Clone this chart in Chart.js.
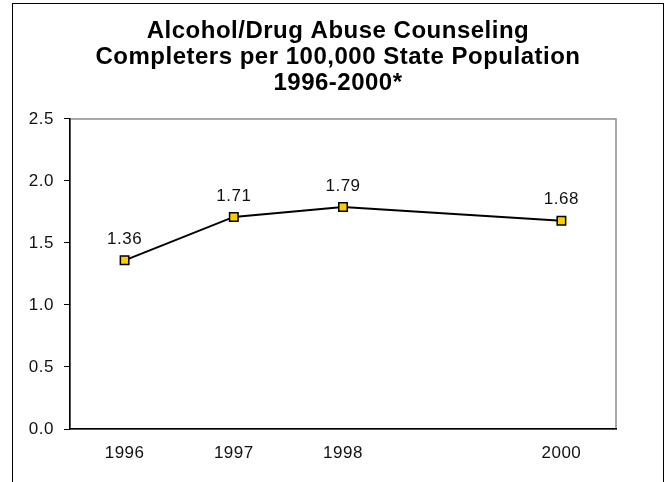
<!DOCTYPE html>
<html>
<head>
<meta charset="utf-8">
<script src="https://cdn.jsdelivr.net/npm/chart.js@4"></script>
<style>
html,body{margin:0;padding:0;background:#fff;}
#wrap{width:672px;height:482px;position:relative;}
</style>
</head>
<body>
<div id="wrap"><canvas id="c" width="672" height="482"></canvas></div>
<script>
const titleLines = ['Alcohol/Drug Abuse Counseling', 'Completers per 100,000 State Population', '1996-2000*'];
const years = [1996, 1997, 1998, 2000];
const values = [1.36, 1.71, 1.79, 1.68];
const yTicks = [0, 0.5, 1.0, 1.5, 2.0, 2.5];

const FONT = "'Liberation Sans', Arial, sans-serif";

const spacingPlugin = {
  id: 'spacing',
  beforeLayout(chart) { chart.ctx.letterSpacing = '0.5px'; },
  afterLayout(chart) {
    const t = chart.titleBlock;
    if (t) { t.left = 13; t.right = 663; t.width = t.right - t.left; }
  },
  beforeDraw(chart) { chart.ctx.letterSpacing = '0.5px'; }
};

const framePlugin = {
  id: 'frame',
  beforeDraw(chart) {
    const ctx = chart.ctx;
    const a = chart.chartArea;
    ctx.save();
    ctx.strokeStyle = '#000';
    ctx.lineWidth = 1;
    ctx.strokeRect(12.5, 3.5, 651, 520);
    ctx.strokeStyle = '#8c8c8c';
    ctx.lineWidth = 1.5;
    ctx.strokeRect(a.left, a.top, a.right - a.left, a.bottom - a.top);
    ctx.restore();
  }
};

const labelPlugin = {
  id: 'vlabels',
  afterDatasetsDraw(chart) {
    const ctx = chart.ctx;
    const meta = chart.getDatasetMeta(0);
    ctx.save();
    ctx.font = '17px ' + FONT;
    ctx.fillStyle = '#111';
    ctx.textAlign = 'center';
    ctx.textBaseline = 'middle';
    meta.data.forEach((pt, i) => {
      ctx.fillText(values[i].toFixed(2), pt.x, pt.y - 21);
    });
    ctx.restore();
  }
};

new Chart(document.getElementById('c'), {
  type: 'line',
  data: {
    datasets: [{
      data: years.map((y, i) => ({x: y, y: values[i]})),
      borderColor: '#000',
      borderWidth: 2,
      pointStyle: 'rect',
      pointRadius: 6,
      pointBackgroundColor: '#FFCC00',
      pointBorderColor: '#000',
      pointBorderWidth: 1.5,
      tension: 0
    }]
  },
  options: {
    responsive: false,
    animation: false,
    events: [],
    layout: {padding: {left: 12, right: 56, top: 0, bottom: 0}},
    plugins: {
      legend: {display: false},
      tooltip: {enabled: false},
      title: {
        display: true,
        text: titleLines,
        color: '#000',
        font: {family: FONT, size: 24, weight: 'bold', lineHeight: 1.083},
        padding: {top: 18, bottom: 23}
      }
    },
    scales: {
      x: {
        type: 'linear',
        min: 1995.5,
        max: 2000.5,
        afterBuildTicks(scale) { scale.ticks = years.map(v => ({value: v})); },
        afterFit(scale) { scale.height = 53; },
        grid: {display: false, drawTicks: false},
        border: {display: true, color: '#000', width: 1.5},
        ticks: {
          color: '#111',
          font: {family: FONT, size: 17},
          padding: 14,
          maxRotation: 0,
          autoSkip: false,
          callback: v => String(v)
        }
      },
      y: {
        min: 0,
        max: 2.5,
        afterBuildTicks(scale) { scale.ticks = yTicks.map(v => ({value: v})); },
        afterFit(scale) { scale.width = 58; },
        grid: {drawOnChartArea: false, drawTicks: true, tickLength: 6, tickColor: '#000', lineWidth: 1},
        border: {display: true, color: '#000', width: 1.5},
        ticks: {
          color: '#111',
          font: {family: FONT, size: 17},
          padding: 10,
          callback: v => Number(v).toFixed(1)
        }
      }
    }
  },
  plugins: [spacingPlugin, framePlugin, labelPlugin]
});
</script>
</body>
</html>
